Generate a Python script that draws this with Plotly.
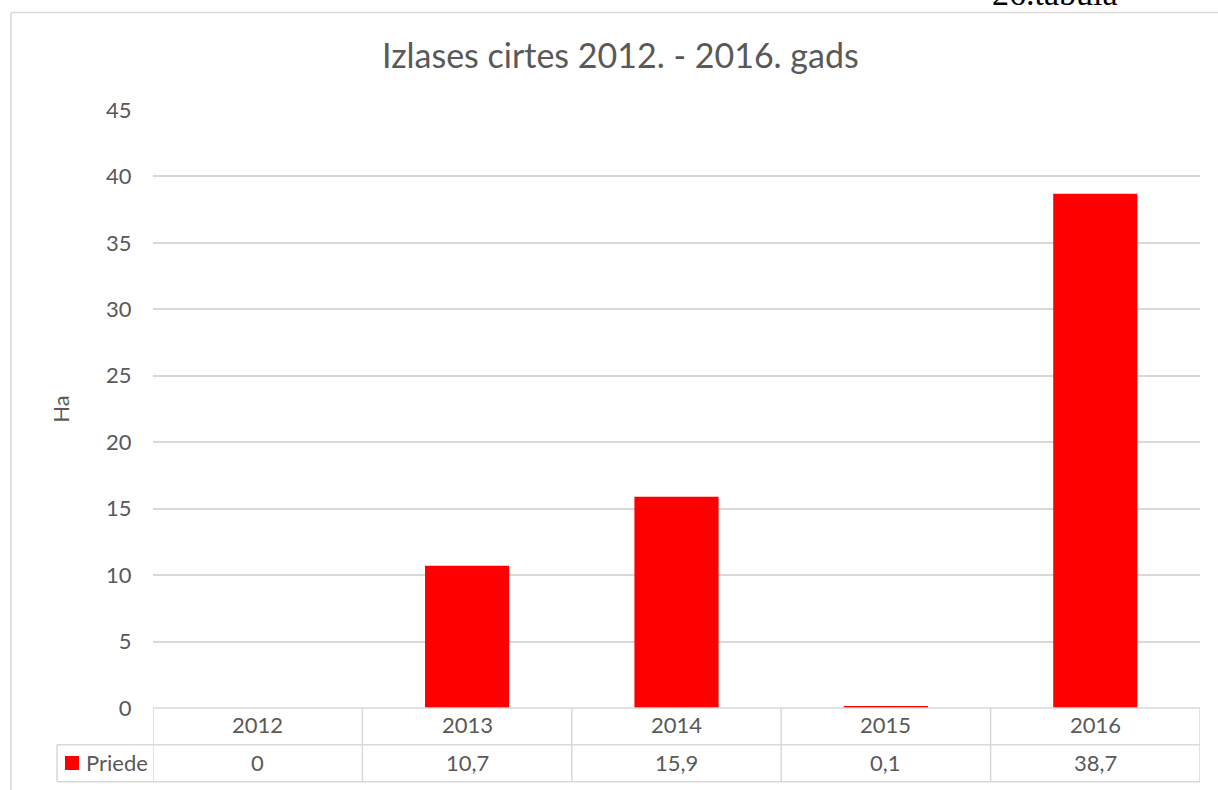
import plotly.graph_objects as go

# Dati
gadi = ["2012", "2013", "2014", "2015", "2016"]
priede = [0, 10.7, 15.9, 0.1, 38.7]
serija = "Priede"
y_ticks = [0, 5, 10, 15, 20, 25, 30, 35, 40, 45]

SARKANS = "#FF0000"
TEKSTS = "#595959"
LINIJA = "#D9D9D9"
FONTS = "Lato"

W, H = 1218, 790
L, R, T, B = 153, 1200, 110, 708  # zīmēšanas laukums pikseļos


def px(p):
    # pikselis -> paper x
    return (p - L) / (R - L)


def py(p):
    # pikselis -> paper y
    return (B - p) / (B - T)


def teksts(text, x, y, xref="paper", size=22, **kw):
    return dict(x=x, y=y, xref=xref, yref="paper", text=text, showarrow=False,
                xanchor=kw.pop("xanchor", "center"), yanchor="middle",
                font=dict(size=size, color=kw.pop("color", TEKSTS),
                          family=kw.pop("family", FONTS)), **kw)


fig = go.Figure()
fig.add_trace(go.Bar(x=list(range(len(gadi))), y=priede, name=serija,
                     marker_color=SARKANS, marker_line_width=0, width=0.402,
                     showlegend=False))

lin = dict(color=LINIJA, width=1.5)
shapes = []
annotations = []

# ārējais rāmis
shapes.append(dict(type="line", xref="paper", yref="paper", x0=px(11), x1=px(1240),
                   y0=py(12.5), y1=py(12.5), line=lin))
shapes.append(dict(type="line", xref="paper", yref="paper", x0=px(11), x1=px(11),
                   y0=py(12.5), y1=py(820), line=lin))

# datu tabula
y_rinda1, y_rinda2 = 744.7, 781.7
for i in range(len(gadi) + 1):
    shapes.append(dict(type="line", xref="x", yref="paper", x0=i - 0.5, x1=i - 0.5,
                       y0=0, y1=py(y_rinda2), line=lin))
shapes.append(dict(type="line", xref="paper", yref="paper", x0=0, x1=1,
                   y0=0, y1=0, line=lin))
for yy in (y_rinda1, y_rinda2):
    shapes.append(dict(type="line", xref="paper", yref="paper", x0=px(57), x1=1,
                       y0=py(yy), y1=py(yy), line=lin))
shapes.append(dict(type="line", xref="paper", yref="paper", x0=px(57), x1=px(57),
                   y0=py(y_rinda1), y1=py(y_rinda2), line=lin))
# leģendas atslēga
shapes.append(dict(type="rect", xref="paper", yref="paper", x0=px(65), x1=px(79),
                   y0=py(770), y1=py(756), fillcolor=SARKANS, line=dict(width=0)))

for i, (g, v) in enumerate(zip(gadi, priede)):
    annotations.append(teksts(g, i, py(724.5), xref="x"))
    annotations.append(teksts(f"{v:g}".replace(".", ","), i, py(762.5), xref="x"))
annotations.append(teksts(serija, px(84), py(762.5), xanchor="left"))

# virsraksts un tabulas numurs (augšā daļēji nogriezts, kā oriģinālā)
annotations.append(teksts("Izlases cirtes 2012. - 2016. gads", px(620), py(54), size=34))
annotations.append(teksts("26.tabula", px(1055), py(-6.5), size=34, color="black",
                          family="Liberation Serif"))

fig.update_layout(
    width=W, height=H,
    margin=dict(l=L, r=W - R, t=T, b=H - B, autoexpand=False),
    plot_bgcolor="white", paper_bgcolor="white",
    font=dict(family=FONTS, color=TEKSTS, size=22),
    shapes=shapes, annotations=annotations,
    xaxis=dict(range=[-0.5, len(gadi) - 0.5], showticklabels=False, showgrid=False,
               zeroline=False, showline=False, fixedrange=True),
    yaxis=dict(range=[0, 45], tickvals=y_ticks, showgrid=True, gridcolor=LINIJA,
               gridwidth=1.5, zeroline=False, showline=False, ticks="outside",
               ticklen=16, tickcolor="rgba(0,0,0,0)", tickfont=dict(size=22, color=TEKSTS),
               title=dict(text="Ha", standoff=30, font=dict(size=22, color=TEKSTS))),
)

# lapas noklusētā 8 px atkāpe jānoņem, lai figūra sāktos no stūra
fig.write_html("out.html", config={"displayModeBar": False},
               post_script="document.body.style.margin = '0';")
